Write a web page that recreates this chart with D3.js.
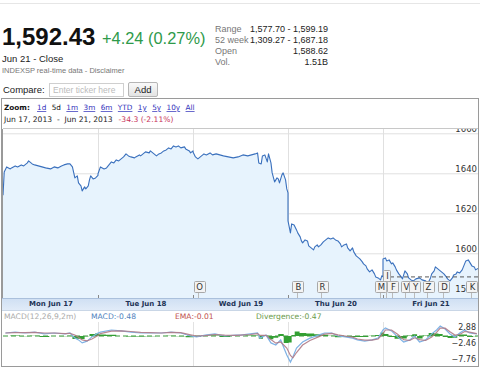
<!DOCTYPE html>
<html><head><meta charset="utf-8">
<script src="https://cdn.jsdelivr.net/npm/d3@7"></script>
<style>
html,body{margin:0;padding:0;background:#fff;}
svg{display:block;}
</style></head>
<body>
<svg id="c" width="480" height="372"></svg>
<script>
// ---------------- DATA ----------------
const dayKeys = ["06-17","06-18","06-19","06-20","06-21"];
const dayLabels = ["Mon Jun 17","Tue Jun 18","Wed Jun 19","Thu Jun 20","Fri Jun 21"];
const priceTicks = [1580,1600,1620,1640,1660];
const macdTicks = [2.88,-2.46,-7.76];
const zoomLinks = ["1d","5d","1m","3m","6m","YTD","1y","5y","10y","All"];
const prevClose = 1588.19;

const priceTimes = [
"06-17 09:30","06-17 09:35","06-17 09:45","06-17 10:00","06-17 10:05","06-17 10:20","06-17 10:30","06-17 10:45","06-17 10:55","06-17 11:10","06-17 11:15","06-17 11:30","06-17 11:40","06-17 11:55","06-17 12:10","06-17 12:25","06-17 12:45","06-17 13:00","06-17 13:15","06-17 13:30","06-17 13:40","06-17 13:55","06-17 14:05","06-17 14:15","06-17 14:25","06-17 14:35","06-17 14:40","06-17 14:50","06-17 14:55","06-17 15:05","06-17 15:10","06-17 15:20","06-17 15:25","06-17 15:30","06-17 15:40","06-17 15:50","06-17 16:00",
"06-18 09:30","06-18 09:40","06-18 09:55","06-18 10:05","06-18 10:15","06-18 10:25","06-18 10:35","06-18 10:45","06-18 10:55","06-18 11:05","06-18 11:15","06-18 11:25","06-18 11:35","06-18 11:45","06-18 12:00","06-18 12:05","06-18 12:20","06-18 12:25","06-18 12:40","06-18 12:45","06-18 13:00","06-18 13:05","06-18 13:20","06-18 13:30","06-18 13:40","06-18 13:50","06-18 14:00","06-18 14:10","06-18 14:20","06-18 14:30","06-18 14:40","06-18 14:50","06-18 15:00","06-18 15:10","06-18 15:25","06-18 15:30","06-18 15:45","06-18 15:50","06-18 16:00",
"06-19 09:30","06-19 09:40","06-19 09:50","06-19 10:05","06-19 10:15","06-19 10:25","06-19 10:40","06-19 10:50","06-19 11:05","06-19 11:20","06-19 11:35","06-19 11:55","06-19 12:15","06-19 12:35","06-19 12:55","06-19 13:15","06-19 13:30","06-19 13:45","06-19 13:55","06-19 14:00","06-19 14:10","06-19 14:15","06-19 14:25","06-19 14:35","06-19 14:40","06-19 14:50","06-19 14:55","06-19 15:05","06-19 15:15","06-19 15:20","06-19 15:25","06-19 15:35","06-19 15:40","06-19 15:50","06-19 15:55","06-19 16:00",
"06-20 09:30","06-20 09:40","06-20 09:45","06-20 09:55","06-20 10:05","06-20 10:10","06-20 10:20","06-20 10:25","06-20 10:30","06-20 10:40","06-20 10:50","06-20 10:55","06-20 11:05","06-20 11:15","06-20 11:20","06-20 11:30","06-20 11:35","06-20 11:45","06-20 11:55","06-20 12:05","06-20 12:15","06-20 12:25","06-20 12:35","06-20 12:45","06-20 12:55","06-20 13:05","06-20 13:10","06-20 13:20","06-20 13:30","06-20 13:35","06-20 13:45","06-20 13:55","06-20 14:00","06-20 14:10","06-20 14:15","06-20 14:25","06-20 14:35","06-20 14:40","06-20 14:50","06-20 14:55","06-20 15:05","06-20 15:15","06-20 15:25","06-20 15:30","06-20 15:40","06-20 15:50","06-20 15:55","06-20 16:00",
"06-21 09:30","06-21 09:40","06-21 09:45","06-21 09:55","06-21 10:05","06-21 10:10","06-21 10:20","06-21 10:25","06-21 10:35","06-21 10:45","06-21 10:50","06-21 11:00","06-21 11:10","06-21 11:15","06-21 11:25","06-21 11:35","06-21 11:45","06-21 12:00","06-21 12:10","06-21 12:25","06-21 12:35","06-21 12:45","06-21 12:50","06-21 13:00","06-21 13:05","06-21 13:15","06-21 13:25","06-21 13:30","06-21 13:40","06-21 13:50","06-21 13:55","06-21 14:05","06-21 14:15","06-21 14:20","06-21 14:30","06-21 14:35","06-21 14:45","06-21 14:55","06-21 15:00","06-21 15:10","06-21 15:20","06-21 15:25","06-21 15:35","06-21 15:45","06-21 15:50","06-21 16:00"
];
const priceValues = [
1629.0,1640.6,1643.2,1642.2,1642.7,1643.7,1643.2,1644.2,1643.7,1645.2,1646.2,1644.7,1644.2,1643.7,1643.2,1642.7,1642.2,1643.2,1642.7,1643.7,1644.2,1644.7,1644.7,1643.2,1637.7,1638.7,1635.2,1633.7,1631.2,1633.2,1632.2,1633.7,1636.7,1638.7,1637.2,1637.7,1639.0,
1639.8,1643.2,1642.2,1642.7,1644.2,1645.7,1645.2,1646.7,1646.2,1647.2,1648.2,1649.7,1648.7,1648.2,1647.7,1648.2,1649.2,1648.7,1650.2,1650.7,1650.2,1651.2,1649.7,1648.7,1649.7,1650.2,1651.2,1651.7,1652.7,1652.2,1653.7,1653.2,1653.7,1652.7,1653.2,1652.2,1651.2,1650.2,1651.2,
1650.6,1648.2,1647.2,1648.7,1649.7,1649.2,1650.2,1649.2,1649.7,1649.2,1648.7,1648.2,1647.7,1648.2,1649.2,1648.7,1649.2,1649.7,1650.2,1645.2,1644.7,1648.7,1649.2,1645.7,1649.7,1645.2,1640.2,1635.7,1637.7,1637.2,1635.2,1639.2,1640.2,1636.7,1632.2,1630.2,
1616.2,1610.2,1614.7,1614.2,1611.7,1610.2,1608.2,1606.2,1605.2,1606.7,1606.2,1603.7,1602.7,1601.7,1603.2,1604.2,1603.2,1604.2,1605.7,1606.7,1607.7,1607.2,1607.7,1606.7,1606.2,1604.7,1603.2,1604.2,1604.7,1602.7,1601.2,1602.7,1600.7,1598.7,1598.2,1597.2,1595.7,1594.7,1593.7,1592.2,1590.7,1591.7,1589.7,1588.2,1587.7,1586.7,1588.7,1588.2,
1597.2,1597.7,1596.2,1596.7,1594.7,1595.2,1593.2,1591.7,1589.7,1588.2,1587.2,1591.2,1589.7,1587.7,1586.7,1586.2,1587.2,1587.7,1586.7,1586.2,1585.2,1587.7,1589.7,1591.2,1593.2,1592.2,1591.2,1590.7,1589.7,1588.2,1587.2,1586.2,1587.7,1589.2,1589.7,1590.7,1590.2,1591.7,1593.2,1596.2,1596.7,1595.7,1593.7,1593.2,1591.7,1592.43
];

const macdTimes = [
"06-17 09:40","06-17 10:20","06-17 11:00","06-17 11:40","06-17 12:20","06-17 13:00","06-17 13:45","06-17 14:05","06-17 14:25","06-17 14:40","06-17 14:55","06-17 15:15","06-17 15:35","06-17 16:00",
"06-18 09:40","06-18 10:25","06-18 11:05","06-18 11:45","06-18 12:25","06-18 13:05","06-18 13:50","06-18 14:30","06-18 15:10","06-18 15:50",
"06-19 09:45","06-19 10:20","06-19 11:00","06-19 11:40","06-19 12:25","06-19 12:45","06-19 13:25","06-19 13:55","06-19 14:05","06-19 14:30","06-19 14:50","06-19 15:10","06-19 15:30","06-19 15:55",
"06-20 09:40","06-20 09:50","06-20 10:05","06-20 10:30","06-20 11:00","06-20 11:35","06-20 12:00","06-20 12:30","06-20 12:55","06-20 13:25","06-20 13:55","06-20 14:15","06-20 14:45","06-20 15:15","06-20 15:40","06-20 16:00",
"06-21 09:40","06-21 10:05","06-21 10:30","06-21 10:55","06-21 11:20","06-21 11:40","06-21 12:00","06-21 12:25","06-21 12:50","06-21 13:10","06-21 13:25","06-21 13:45","06-21 14:05","06-21 14:25","06-21 14:45","06-21 15:05","06-21 15:25","06-21 15:55"
];
const macdValues = [
1.0,1.3,1.0,1.3,0.7,1.0,0.7,1.0,-0.7,-1.3,-2.3,-1.7,-0.3,1.0,
1.3,2.0,1.7,1.3,1.0,1.0,1.0,1.3,1.0,0.0,
-0.3,0.3,0.7,0.0,0.3,0.3,0.7,1.0,-0.7,0.3,-2.3,-3.0,-1.3,-6.3,
-8.7,-7.0,-4.0,-2.0,-0.7,0.3,1.0,1.0,0.0,-0.3,-0.7,-1.3,-1.7,-1.3,-0.7,2.0,
2.7,1.7,-0.3,-2.0,-1.3,0.0,-2.0,-1.3,0.7,2.0,3.3,2.3,0.7,-0.3,1.0,2.0,1.0,0.7
];
const emaValues = [
1.0,1.1,1.1,1.2,1.0,1.0,0.8,0.9,0.3,-0.4,-1.3,-1.6,-1.0,0.2,
0.8,1.6,1.7,1.5,1.2,1.1,1.0,1.2,1.1,0.4,
0.0,0.1,0.5,0.3,0.2,0.3,0.5,0.8,0.2,0.2,-1.2,-2.4,-2.0,-4.0,
-6.5,-7.3,-5.5,-3.0,-1.5,-0.3,0.6,0.9,0.4,0.0,-0.4,-1.0,-1.4,-1.4,-1.0,0.8,
2.0,2.0,0.6,-1.2,-1.5,-0.6,-1.2,-1.5,-0.3,1.2,2.6,2.6,1.4,0.3,0.5,1.5,1.3,0.8
];
const divValues = [
0.0,0.2,-0.1,0.1,-0.3,0.0,-0.1,0.1,-1.0,-0.9,-1.0,-0.1,0.7,0.8,
0.5,0.4,0.0,-0.2,-0.2,-0.1,0.0,0.1,-0.1,-0.4,
-0.3,0.2,0.2,-0.3,0.1,0.0,0.2,0.2,-0.9,0.1,-1.1,-0.6,0.7,-2.3,
-2.2,0.3,1.5,1.0,0.8,0.6,0.4,0.1,-0.4,-0.3,-0.3,-0.3,-0.3,0.1,0.3,1.2,
0.7,-0.3,-0.9,-0.8,0.2,0.6,-0.8,0.2,1.0,0.8,0.7,-0.3,-0.7,-0.6,0.5,0.5,-0.3,-0.1
];

const flagLetters = ["O","B","R","M","I","F","V","Y","Z","D","K"];
const flagTimes = ["06-19 09:55","06-20 10:10","06-20 11:50","06-20 15:50","06-21 09:45","06-21 10:10","06-21 11:05","06-21 11:40","06-21 12:35","06-21 13:40","06-21 15:35"];
const flagRows = [0,0,0,0,1,0,0,0,0,0,0];

const header = {price:"1,592.43", change:"+4.24 (0.27%)", sub:"Jun 21 - Close", src:"INDEXSP real-time data - Disclaimer"};
const statLabels = ["Range","52 week","Open","Vol."];
const statValues = ["1,577.70 - 1,599.19","1,309.27 - 1,687.18","1,588.62","1.51B"];
const rangeText = "Jun 17, 2013  -  Jun 21, 2013";
const rangeChange = "-34.3 (-2.11%)";
const macdLegend = ["MACD(12,26,9,2m)","MACD:-0.48","EMA:-0.01","Divergence:-0.47"];

// ---------------- HELPERS ----------------
function tpos(s){
  const [d,t] = s.split(" ");
  const [h,m] = t.split(":").map(Number);
  return dayKeys.indexOf(d) + ((h*60+m) - 570)/390;
}
const price = priceTimes.map((t,i)=>({x:tpos(t), v:priceValues[i]}));
const macd = macdTimes.map((t,i)=>({x:tpos(t), m:macdValues[i], e:emaValues[i], d:divValues[i]}));

const svg = d3.select("#c");
const SANS = "'Liberation Sans', Arial, sans-serif";
const VERD = "'DejaVu Sans', Verdana, sans-serif";

// ---------------- HEADER ----------------
svg.append("line").attr("x1",0).attr("x2",480).attr("y1",3.5).attr("y2",3.5).attr("stroke","#e6e6e6");
svg.append("text").attr("x",2).attr("y",45).attr("font-family",SANS).attr("font-weight","bold")
  .attr("font-size",24).attr("fill","#111").text(header.price);
svg.append("text").attr("x",102).attr("y",44).attr("font-family",SANS)
  .attr("font-size",16.4).attr("fill","#2e9a4a").text(header.change);
svg.append("text").attr("x",2).attr("y",62).attr("font-family",SANS)
  .attr("font-size",9.5).attr("fill","#222").text(header.sub);
svg.append("text").attr("x",2).attr("y",73).attr("font-family",SANS)
  .attr("font-size",7.5).attr("fill","#777").text(header.src);
statLabels.forEach((l,i)=>{
  svg.append("text").attr("x",215).attr("y",32+i*11).attr("font-family",SANS)
    .attr("font-size",9).attr("fill","#777").text(l);
  svg.append("text").attr("x",328).attr("y",32+i*11).attr("font-family",SANS).attr("text-anchor","end")
    .attr("font-size",9).attr("fill","#222").text(statValues[i]);
});

// compare row
svg.append("text").attr("x",3).attr("y",93).attr("font-family",SANS).attr("font-size",9.5).attr("fill","#222").text("Compare:");
svg.append("rect").attr("x",49.5).attr("y",83.5).attr("width",74).attr("height",13).attr("fill","#fff").attr("stroke","#cfcfcf");
svg.append("text").attr("x",53).attr("y",93).attr("font-family",SANS).attr("font-size",8.5).attr("fill","#bbb").text("Enter ticker here");
const bg = svg.append("defs").append("linearGradient").attr("id","btn").attr("x1",0).attr("x2",0).attr("y1",0).attr("y2",1);
bg.append("stop").attr("offset",0).attr("stop-color","#fafafa");
bg.append("stop").attr("offset",1).attr("stop-color","#e2e2e2");
svg.append("rect").attr("x",128.5).attr("y",82.5).attr("width",29).attr("height",14).attr("rx",1.5).attr("fill","url(#btn)").attr("stroke","#b5b5b5");
svg.append("text").attr("x",143).attr("y",93).attr("text-anchor","middle").attr("font-family",SANS).attr("font-size",9.5).attr("fill","#222").text("Add");

// ---------------- FRAME ----------------
svg.append("rect").attr("x",1.5).attr("y",98.5).attr("width",477).attr("height",268).attr("fill","#fff").attr("stroke","#9a9a9a");

// zoom row
const zr = svg.append("g").attr("font-family",VERD).attr("font-size",7.3);
zr.append("text").attr("x",4).attr("y",110).attr("font-weight","bold").attr("fill","#111").text("Zoom:");
let zx = 37;
zoomLinks.forEach((z,i)=>{
  const t = zr.append("text").attr("x",zx).attr("y",110).attr("fill", z==="5d" ? "#111" : "#3333bb")
    .attr("text-decoration", z==="5d" ? "none" : "underline").text(z);
  const w = t.node().getComputedTextLength();
  zx += w + 5.4;
});
const rt = zr.append("text").attr("x",4).attr("y",122).attr("fill","#222").attr("font-size",7.6).attr("xml:space","preserve").text(rangeText);
const rw = rt.node().getComputedTextLength();
zr.append("text").attr("x",4+rw+6).attr("y",122).attr("fill","#c8325a").attr("font-size",7.6).text(rangeChange);

// ---------------- PRICE PLOT ----------------
const X0 = 3, X1 = 478, PT = 129, PB = 298;
const x = d3.scaleLinear().domain([0,5]).range([X0,X1]);
const y = d3.scaleLinear().domain([1580,1660]).range([293.3,133.3]);

svg.append("defs").append("clipPath").attr("id","pc").append("rect").attr("x",X0).attr("y",PT).attr("width",X1-X0).attr("height",PB-PT);
svg.append("line").attr("x1",X0).attr("x2",X1).attr("y1",PT-0.5).attr("y2",PT-0.5).attr("stroke","#c8c8c8");

const plot = svg.append("g").attr("clip-path","url(#pc)");
// gridlines
plot.append("g").attr("transform",`translate(${X0},0)`)
  .call(d3.axisRight(y).tickValues(priceTicks).tickSize(X1-X0).tickFormat(""))
  .call(g=>{g.select(".domain").remove(); g.selectAll("line").attr("stroke","#e0e0e0");});
plot.append("g").attr("transform",`translate(0,${PT})`)
  .call(d3.axisBottom(x).tickValues([1,2,3,4]).tickSize(PB-PT).tickFormat(""))
  .call(g=>{g.select(".domain").remove(); g.selectAll("line").attr("stroke","#e0e0e0");});

plot.append("path").datum(price)
  .attr("d", d3.area().x(d=>x(d.x)).y0(PB).y1(d=>y(d.v)))
  .attr("fill","#e7f3fd");
plot.append("path").datum(price)
  .attr("d", d3.line().x(d=>x(d.x)).y(d=>y(d.v)))
  .attr("fill","none").attr("stroke","#3a70bd").attr("stroke-width",1.1).attr("stroke-linejoin","round");

// previous close dashed line (Friday)
plot.append("line").attr("x1",x(4)).attr("x2",X1).attr("y1",y(prevClose)).attr("y2",y(prevClose))
  .attr("stroke","#444").attr("stroke-dasharray","4,3").attr("stroke-width",0.9);

// left border of plot
svg.append("line").attr("x1",X0-0.5).attr("x2",X0-0.5).attr("y1",PT).attr("y2",PB).attr("stroke","#999");

// price labels
plot.append("g").attr("transform",`translate(${X1-1},0)`)
  .call(d3.axisLeft(y).tickValues(priceTicks).tickSize(0).tickPadding(0).tickFormat(d3.format("d")))
  .call(g=>{g.select(".domain").remove();
    g.selectAll("text").attr("dy","-0.25em").attr("font-family",VERD).attr("font-size",8.5).attr("fill","#333");});

// flags
const fl = svg.append("g").attr("font-family",VERD).attr("font-size",8.5);
flagLetters.forEach((L,i)=>{
  const cx = x(tpos(flagTimes[i]));
  const top = flagRows[i] ? 270.5 : 281.5;
  const w = L==="I" ? 7 : 11, h = 11;
  fl.append("line").attr("x1",Math.round(cx)-0.5).attr("x2",Math.round(cx)-0.5).attr("y1",top+h).attr("y2",PB).attr("stroke","#bbb");
  fl.append("rect").attr("x",Math.round(cx-w/2)+0.5).attr("y",top).attr("width",w).attr("height",h)
    .attr("fill","#f3f3f3").attr("stroke","#a8a8a8").attr("rx",1);
  fl.append("text").attr("x",Math.round(cx)+0.5).attr("y",top+8.6).attr("text-anchor","middle").attr("fill","#333").text(L);
});

// date band
const dg = svg.append("defs").append("linearGradient").attr("id","band").attr("x1",0).attr("x2",0).attr("y1",0).attr("y2",1);
dg.append("stop").attr("offset",0).attr("stop-color","#cfdff3");
dg.append("stop").attr("offset",1).attr("stop-color","#e1ebf8");
svg.append("rect").attr("x",2).attr("y",PB).attr("width",476).attr("height",12).attr("fill","url(#band)");
svg.append("line").attr("x1",2).attr("x2",478).attr("y1",PB+0.5).attr("y2",PB+0.5).attr("stroke","#aac0dc");
svg.append("line").attr("x1",2).attr("x2",478).attr("y1",PB+12.5).attr("y2",PB+12.5).attr("stroke","#c9d6e6");
svg.append("g").attr("transform",`translate(0,${PB})`)
  .call(d3.axisBottom(x).tickValues([0.5,1.5,2.5,3.5,4.5]).tickSize(0).tickPadding(0).tickFormat((d,i)=>dayLabels[i]))
  .call(g=>{g.select(".domain").remove();
    g.selectAll("text").attr("dy","8.3").attr("font-family",VERD).attr("font-size",7).attr("font-weight","bold").attr("fill","#223355");});
svg.append("g").attr("transform",`translate(0,${PB-3})`)
  .call(d3.axisBottom(x).tickValues([1,2,3,4]).tickSize(3).tickFormat(""))
  .call(g=>{g.select(".domain").remove(); g.selectAll("line").attr("stroke","#888");});

// ---------------- MACD ----------------
const MT = 322, MB = 366;
const my = d3.scaleLinear().domain([4,-10]).range([324,366]);
svg.append("defs").append("clipPath").attr("id","mc").append("rect").attr("x",X0).attr("y",MT).attr("width",X1-X0).attr("height",MB-MT);
const mg = svg.append("g");
const leg = mg.append("g").attr("font-family",VERD).attr("font-size",7.6);
leg.append("text").attr("x",4).attr("y",319).attr("fill","#aaa").text(macdLegend[0]);
leg.append("text").attr("x",91).attr("y",319).attr("fill","#4f81bd").text(macdLegend[1]);
leg.append("text").attr("x",175).attr("y",319).attr("fill","#c0504d").text(macdLegend[2]);
leg.append("text").attr("x",256).attr("y",319).attr("fill","#6a9a4a").text(macdLegend[3]);

const mp = mg.append("g").attr("clip-path","url(#mc)");
mp.append("g").attr("transform",`translate(0,${MT})`)
  .call(d3.axisBottom(x).tickValues([1,2,3,4]).tickSize(MB-MT).tickFormat(""))
  .call(g=>{g.select(".domain").remove(); g.selectAll("line").attr("stroke","#e2e2e2");});
mp.append("path").datum(macd)
  .attr("d", d3.area().x(d=>x(d.x)).y0(my(0)).y1(d=>my(d.d)).curve(d3.curveStep))
  .attr("fill","#33a033");
mp.append("line").attr("x1",X0).attr("x2",X1).attr("y1",my(0)).attr("y2",my(0))
  .attr("stroke","#3a9a3a").attr("stroke-dasharray","5,3");
mp.append("path").datum(macd)
  .attr("d", d3.line().x(d=>x(d.x)).y(d=>my(d.m)))
  .attr("fill","none").attr("stroke","#7fb2e5").attr("stroke-width",1.2);
mp.append("path").datum(macd)
  .attr("d", d3.line().x(d=>x(d.x)).y(d=>my(d.e)))
  .attr("fill","none").attr("stroke","#b07a86").attr("stroke-width",1.2).attr("opacity",0.9);
mg.append("g").attr("transform",`translate(${X1-2},0)`)
  .call(d3.axisLeft(my).tickValues(macdTicks).tickSize(0).tickPadding(0).tickFormat(d3.format(".2f")))
  .call(g=>{g.select(".domain").remove();
    g.selectAll("text").attr("font-family",VERD).attr("font-size",8).attr("fill","#333");});
</script>
</body></html>
